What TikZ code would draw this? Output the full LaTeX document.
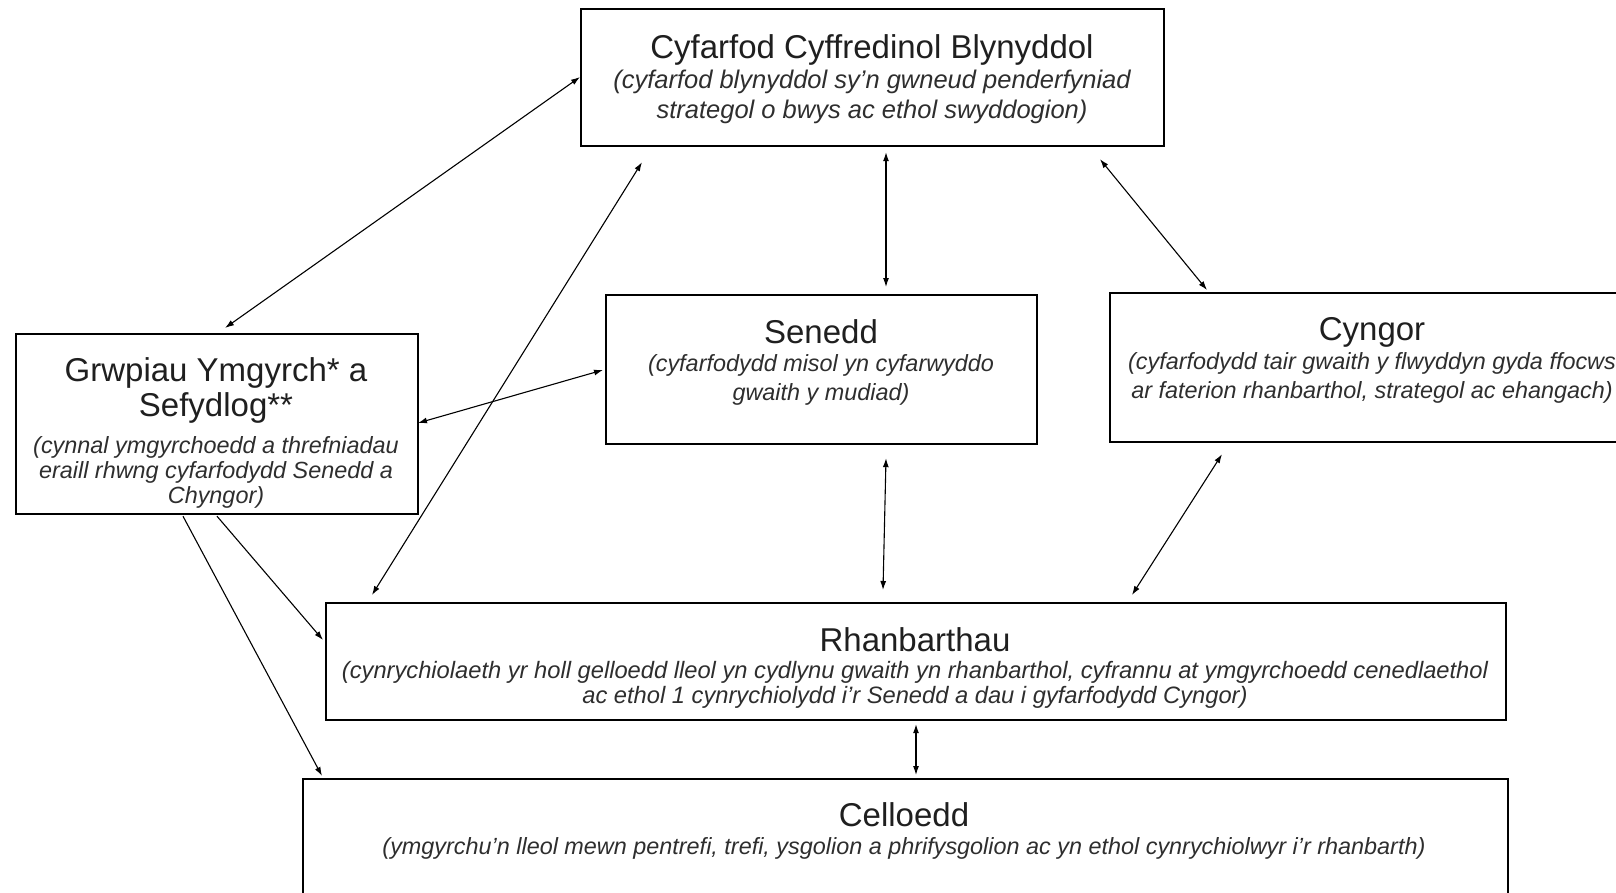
\documentclass[tikz,border=0pt]{standalone}
\usepackage{fontspec}
\setmainfont{Liberation Sans}
\usetikzlibrary{calc,arrows.meta}
\newcommand{\ml}[1]{\begin{tabular}[t]{@{}c@{}}#1\end{tabular}}
\begin{document}
\begin{tikzpicture}[x=1pt,y=-1pt,
  box/.style={draw=black,line width=2.2pt,anchor=north west,inner sep=0pt,minimum width=#1},
  ttl/.style={anchor=base,inner sep=0pt,font=\fontsize{33}{35}\selectfont,text=black!88},
  sub/.style={anchor=base,inner sep=0pt,font=\fontsize{23.4}{28.5}\selectfont\itshape,text=black!82},
  link/.style={line width=1.1pt,{Latex[length=9pt,width=6pt]}-{Latex[length=9pt,width=6pt]}},
  onelink/.style={line width=1.1pt,-{Latex[length=9pt,width=6pt]}}]
\useasboundingbox (0,0) rectangle (1616,893);
\clip (0,0) rectangle (1616,893);
% boxes
\node[box=583pt,minimum height=137pt] (ccb) at (580,8) {};
\node[box=402pt,minimum height=180pt] (grw) at (15,333) {};
\node[box=431pt,minimum height=149pt] (sen) at (605,294) {};
\node[box=513pt,minimum height=149pt] (cyn) at (1109,292) {};
\node[box=1180pt,minimum height=117pt] (rhan) at (325,602) {};
\node[box=1205pt,minimum height=140pt] (cel) at (302,778) {};
% texts
\node[ttl] (ccbt) at (872,59) {Cyfarfod Cyffredinol Blynyddol};
\node[sub,font=\fontsize{25.5}{29.5}\selectfont\itshape] (ccbs) at (872,89) {\ml{(cyfarfod blynyddol sy’n gwneud penderfyniad\\strategol o bwys ac ethol swyddogion)}};
\node[ttl] (sent) at (821,343) {Senedd};
\node[sub,font=\fontsize{23.4}{29}\selectfont\itshape] (sens) at (821,371) {\ml{(cyfarfodydd misol yn cyfarwyddo\\gwaith y mudiad)}};
\node[ttl] (cynt) at (1372,340) {Cyngor};
\node[sub,font=\fontsize{23.4}{29}\selectfont\itshape] (cyns) at (1372,369) {\ml{(cyfarfodydd tair gwaith y flwyddyn gyda ffocws\\ar faterion rhanbarthol, strategol ac ehangach)}};
\node[ttl] (grwt) at (216,381) {\ml{Grwpiau Ymgyrch* a\\Sefydlog**}};
\node[sub,font=\fontsize{23.4}{25}\selectfont\itshape] (grws) at (216,453) {\ml{(cynnal ymgyrchoedd a threfniadau\\eraill rhwng cyfarfodydd Senedd a\\Chyngor)}};
\node[ttl] (rhant) at (915,651) {Rhanbarthau};
\node[sub,font=\fontsize{23.7}{25}\selectfont\itshape] (rhans) at (915,678) {\ml{(cynrychiolaeth yr holl gelloedd lleol yn cydlynu gwaith yn rhanbarthol, cyfrannu at ymgyrchoedd cenedlaethol\\ac ethol 1 cynrychiolydd i’r Senedd a dau i gyfarfodydd Cyngor)}};
\node[ttl] (celt) at (904,826) {Celloedd};
\node[sub] (cels) at (904,854) {(ymgyrchu’n lleol mewn pentrefi, trefi, ysgolion a phrifysgolion ac yn ethol cynrychiolwyr i’r rhanbarth)};
% connectors
\draw[link] ($(ccb.north west)+(0,69)$) -- ($(grw.north west)+(210,-5)$);
\draw[link] ($(ccb.south west)+(62,15)$) -- ($(rhan.north west)+(47,-7)$);
\draw[link] ($(ccb.south west)+(306,5)$) -- ($(sen.north west)+(281,-7)$);
\draw[link] ($(ccb.south west)+(520,12)$) -- ($(cyn.north west)+(98,-2)$);
\draw[link] ($(sen.north west)+(-2,76)$) -- ($(grw.north west)+(403,90)$);
\draw[link] ($(sen.south west)+(281,13)$) -- ($(rhan.north west)+(558,-12)$);
\draw[link] ($(cyn.south west)+(113,11)$) -- ($(rhan.north west)+(807,-7)$);
\draw[onelink] ($(grw.south west)+(202,1)$) -- ($(rhan.north west)+(-2,38)$);
\draw[onelink] ($(grw.south west)+(168,1)$) -- ($(cel.north west)+(20,-2)$);
\draw[link] ($(rhan.south west)+(591,3)$) -- ($(cel.north west)+(614,-3)$);
\end{tikzpicture}
\end{document}
